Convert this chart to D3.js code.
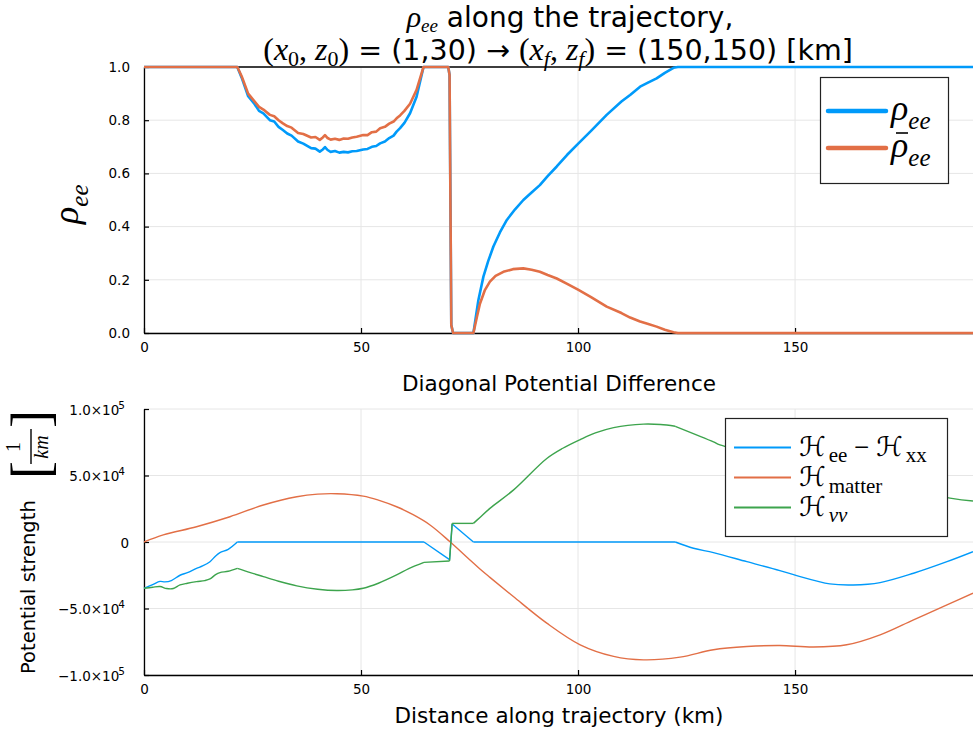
<!DOCTYPE html>
<html>
<head>
<meta charset="utf-8">
<script src="https://cdn.jsdelivr.net/npm/d3@7"></script>
<style>
  body { margin: 0; background: #fff; }
  svg { display: block; }
  text { fill: #000; }
</style>
</head>
<body>
<svg id="chart" width="973" height="737"></svg>
<script>
// ---------- data ----------
// distance along the trajectory (km) and electron-flavour survival probabilities
const distRho = [0, 21.5, 22.5, 24, 25.5, 26.5, 27.5, 29, 30, 31, 32, 33, 34, 35.5, 36.7, 38.5, 39.5, 40.5, 41.2, 41.7, 42.3, 43, 44, 45, 46, 47, 48, 49, 50.5,
  51.5, 52.5, 53.5, 54.4, 55.5, 56.5, 57.5, 58.2, 59, 60, 61.3, 62.8, 64.4, 70.1, 70.4, 70.6, 70.8, 71.2, 75.9, 77, 78.2, 79.3, 80.5, 82, 83.6,
  85.5, 87.4, 89.3, 91.2, 93, 95.1, 97.5, 100.1, 103, 106.6, 110, 112, 114.3, 116, 118.1, 120, 122, 123, 191];
const rhoEE = [1, 1, 0.96, 0.89, 0.86, 0.835, 0.826, 0.80, 0.795, 0.775, 0.763, 0.75, 0.742, 0.72, 0.712, 0.695, 0.693, 0.682, 0.69, 0.699, 0.688, 0.681, 0.684, 0.678, 0.681, 0.679, 0.683, 0.684, 0.69,
  0.692, 0.70, 0.703, 0.713, 0.72, 0.733, 0.742, 0.757, 0.77, 0.79, 0.826, 0.888, 1.0, 1.0, 0.97, 0.5, 0.03, 0, 0, 0.12, 0.212, 0.27, 0.325, 0.378, 0.425,
  0.465, 0.5, 0.528, 0.556, 0.59, 0.626, 0.67, 0.713, 0.76, 0.82, 0.87, 0.895, 0.926, 0.94, 0.957, 0.978, 0.997, 1, 1];

const distRhoBar = [0, 21.5, 22.5, 24, 25.5, 26.5, 27.5, 29, 30, 31, 32, 33, 34, 35.5, 36.7, 38.5, 39.5, 40.5, 41.2, 41.7, 42.3, 43, 44, 45, 46, 47, 48, 49, 50.5,
  51.5, 52.5, 53.5, 54.4, 55.5, 56.5, 57.5, 58.2, 59, 60, 61.3, 62.8, 64.4, 70.1, 70.4, 70.6, 70.8, 71.2, 75.9, 76.7, 77.4, 78.5, 79.7, 81, 82.8,
  85, 87.4, 89.3, 91.2, 93, 95.1, 97.5, 100.1, 103, 106.6, 110, 112, 114.3, 116, 118.1, 120, 122, 123, 191];
const rhoBarEE = [1, 1, 0.965, 0.90, 0.87, 0.85, 0.84, 0.82, 0.815, 0.80, 0.788, 0.778, 0.772, 0.752, 0.748, 0.735, 0.737, 0.726, 0.735, 0.744, 0.733, 0.727, 0.73, 0.726, 0.731, 0.73, 0.735, 0.738, 0.744,
  0.744, 0.755, 0.757, 0.77, 0.775, 0.787, 0.795, 0.807, 0.818, 0.835, 0.862, 0.914, 1.0, 1, 0.97, 0.5, 0.03, 0, 0, 0.06, 0.11, 0.16, 0.193, 0.215, 0.23,
  0.24, 0.243, 0.238, 0.23, 0.218, 0.205, 0.185, 0.162, 0.135, 0.099, 0.075, 0.058, 0.043, 0.035, 0.024, 0.012, 0.003, 0, 0];

// diagonal potential terms (1/km)
const distDiag = [0, 2, 3.7, 4.8, 6.3, 8.3, 10, 12.1, 13.5, 15.2, 16.5, 17.5, 19.4, 21.5, 64.5, 70.4, 71.0, 75.9, 122.4,
  126.6, 131.2, 138.9, 146.5, 150.4, 158, 163.4, 169.6, 177.3, 185, 191];
const hDiag = [-34800, -32000, -29600, -30000, -29000, -25000, -23000, -19800, -18000, -14800, -10500, -8000, -5500, 0, 0, -13300, 13500, 0, 0,
  -4700, -8000, -14800, -21500, -25300, -31500, -32300, -30500, -23500, -14800, -7300];

const distMatter = [0, 4.45, 12.1, 19.8, 27.5, 35.2, 40, 44.4, 50.5, 54, 58.2, 62, 65.9, 70.5, 75.1, 77.4, 79.7, 85.1, 92.8,
  100.5, 108.2, 115.1, 123.5, 131.2, 138.9, 146.5, 154.2, 161.9, 169.6, 177.3, 185, 191];
const hMatter = [0, 5300, 11500, 19000, 27800, 34000, 36000, 36300, 34500, 31500, 26500, 20500, 12800, 200, -13500, -20300, -26600, -41000, -61000,
  -77300, -86000, -88600, -86600, -81000, -78600, -77800, -79000, -77300, -69800, -58500, -47300, -38500];

const distNuNu = [0, 2, 3.7, 5.2, 6.75, 8.3, 10, 12.1, 14, 15.2, 16.5, 17.5, 19.4, 21.5, 24.5, 27.5, 31, 35.2, 40, 44.4,
  48, 50.5, 54, 58.2, 61, 64.5, 70.4, 71, 75.9, 77.4, 79.7, 85.1, 92.8, 96.5, 100.5, 104, 108.2, 115.1, 119, 122.4,
  131.2, 132.7, 185.7, 191];
const hNuNu = [-34800, -34000, -33500, -35000, -35000, -32300, -31000, -29800, -29000, -27800, -24500, -23000, -22000, -19800, -23000, -26000, -29500, -33000, -35500, -36500,
  -36000, -34800, -31000, -24800, -20000, -15300, -14300, 14000, 14000, 18500, 25300, 39000, 62800, 70500, 77000, 82000, 86000, 88600, 88300, 87000,
  75300, 73000, 33000, 30800];

// positions where the potential curves have kinks (piecewise behaviour)
const kinks = [21.5, 64.5, 70.4, 71.0, 75.9, 122.4];

// ticks
const distTicks = [0, 50, 100, 150];
const rhoTicks = [0, 0.2, 0.4, 0.6, 0.8, 1.0];
const potTicks = [-1e5, -5e4, 0, 5e4, 1e5];
const potTickMantissa = ["\u22121.0\u00d710", "\u22125.0\u00d710", "0", "5.0\u00d710", "1.0\u00d710"];
const potTickExponent = ["5", "4", "", "4", "5"];

// ---------- styling ----------
const C_BLUE = "#009AFA", C_ORANGE = "#E26F46", C_GREEN = "#3DA44D";
const SANS = "DejaVu Sans, sans-serif";
const MATH = "Liberation Serif, DejaVu Serif, serif";
const SCRIPT = "DejaVu Serif, DejaVu Sans, serif";
const TICK_SIZE = 13.5;

const svg = d3.select("#chart");

// ---------- scales ----------
const x = d3.scaleLinear().domain([0, 191]).range([144, 973]);
const yRho = d3.scaleLinear().domain([0, 1]).range([333, 67]);
const yPot = d3.scaleLinear().domain([-1e5, 1e5]).range([675, 409]);

// rich text: parts are {t, font, italic, size, shift, dx}
function rich(parent, px, py, parts, anchor, size, family) {
  const t = parent.append("text").attr("x", px).attr("y", py)
    .attr("text-anchor", anchor || "start").attr("font-size", size)
    .attr("font-family", family || SANS);
  let cur = 0;
  parts.forEach(p => {
    const ts = t.append("tspan").text(p.t);
    const want = p.shift || 0;
    if (want !== cur) ts.attr("dy", want - cur);
    cur = want;
    if (p.font) ts.attr("font-family", p.font);
    if (p.italic) ts.attr("font-style", "italic");
    if (p.size) ts.attr("font-size", p.size);
    if (p.dx) ts.attr("dx", p.dx);
  });
  return t;
}

function grid(g, yScale, yTicks) {
  const [y0, y1] = yScale.range();
  g.append("g").selectAll("line").data(distTicks).join("line")
    .attr("x1", d => x(d)).attr("x2", d => x(d)).attr("y1", y1).attr("y2", y0)
    .attr("stroke", "#e6e6e6").attr("stroke-width", 1);
  g.append("g").selectAll("line").data(yTicks).join("line")
    .attr("x1", 144).attr("x2", 973).attr("y1", d => yScale(d)).attr("y2", d => yScale(d))
    .attr("stroke", "#e6e6e6").attr("stroke-width", 1);
}

function axes(g, yScale, yTicks, yFormat) {
  const [y0] = yScale.range();
  const ax = g.append("g").attr("transform", `translate(0,${y0})`)
    .call(d3.axisBottom(x).tickValues(distTicks).tickSize(-5).tickPadding(9).tickSizeOuter(0));
  ax.select(".domain").attr("stroke", "#000").attr("stroke-width", 1.3);
  ax.selectAll(".tick line").attr("stroke", "#000").attr("stroke-width", 1.2);
  ax.selectAll(".tick text").attr("font-family", SANS).attr("font-size", TICK_SIZE).attr("fill", "#000");
  const ay = g.append("g").attr("transform", "translate(144,0)")
    .call(d3.axisLeft(yScale).tickValues(yTicks).tickSize(-5).tickPadding(14).tickSizeOuter(0).tickFormat(yFormat || (() => "")));
  ay.select(".domain").attr("stroke", "#000").attr("stroke-width", 1.3);
  ay.selectAll(".tick line").attr("stroke", "#000").attr("stroke-width", 1.2);
  ay.selectAll(".tick text").attr("font-family", SANS).attr("font-size", TICK_SIZE).attr("fill", "#000");
  return ay;
}

// split a series at kink positions so each smooth piece can be drawn on its own
function pieces(xs, ys) {
  const pts = d3.zip(xs, ys);
  const out = [];
  let cur = [];
  pts.forEach(p => {
    cur.push(p);
    if (kinks.includes(p[0])) { out.push(cur); cur = [p]; }
  });
  if (cur.length > 1) out.push(cur);
  return out;
}

// ===== top panel: rho_ee =====
const gTop = svg.append("g");
grid(gTop, yRho, rhoTicks);
axes(gTop, yRho, rhoTicks, d3.format(".1f"));
gTop.append("line").attr("x1", 144).attr("x2", 973).attr("y1", 67).attr("y2", 67)
  .attr("stroke", "#000").attr("stroke-width", 1.3);
const lineRho = d3.line().x(d => x(d[0])).y(d => yRho(d[1]));
gTop.append("path").datum(d3.zip(distRho, rhoEE)).attr("d", lineRho)
  .attr("fill", "none").attr("stroke", C_BLUE).attr("stroke-width", 2.6).attr("stroke-linejoin", "round");
gTop.append("path").datum(d3.zip(distRhoBar, rhoBarEE)).attr("d", lineRho)
  .attr("fill", "none").attr("stroke", C_ORANGE).attr("stroke-width", 2.6).attr("stroke-linejoin", "round");

// top title (two lines)
rich(svg, 570, 27, [
  { t: "\u03c1", font: MATH, italic: true, size: 30 },
  { t: "ee", font: MATH, italic: true, size: 19, shift: 5 },
  { t: "  along the trajectory,", shift: 0 }
], "middle", 28);
rich(svg, 558, 60, [
  { t: "(", font: MATH, size: 32 },
  { t: "x", font: MATH, italic: true, size: 32 },
  { t: "0", font: MATH, size: 22, shift: 6 },
  { t: ", ", font: MATH, size: 32, shift: 0 },
  { t: "z", font: MATH, italic: true, size: 32 },
  { t: "0", font: MATH, size: 22, shift: 6 },
  { t: ")", font: MATH, size: 32, shift: 0 },
  { t: " = (1,30) \u2192 " },
  { t: "(", font: MATH, size: 32 },
  { t: "x", font: MATH, italic: true, size: 32 },
  { t: "f", font: MATH, italic: true, size: 22, shift: 6 },
  { t: ", ", font: MATH, size: 32, shift: 0 },
  { t: "z", font: MATH, italic: true, size: 32 },
  { t: "f", font: MATH, italic: true, size: 22, shift: 6 },
  { t: ")", font: MATH, size: 32, shift: 0 },
  { t: " = (150,150) [km]" }
], "middle", 28.5);

// top y label
const yl1 = svg.append("g").attr("transform", "translate(78,224) rotate(-90)");
rich(yl1, 0, 0, [
  { t: "\u03c1", font: MATH, italic: true, size: 36 },
  { t: "ee", font: MATH, italic: true, size: 25, shift: 10 }
], "start", 36, MATH);

// top legend (second entry carries a bar accent over rho)
const lg1 = svg.append("g");
lg1.append("rect").attr("x", 820.5).attr("y", 77.5).attr("width", 128).attr("height", 106)
  .attr("fill", "#fff").attr("stroke", "#222").attr("stroke-width", 1.2);
[[C_BLUE, 111, false], [C_ORANGE, 148, true]].forEach(([c, ly, bar]) => {
  lg1.append("line").attr("x1", 828).attr("x2", 886).attr("y1", ly).attr("y2", ly)
    .attr("stroke", c).attr("stroke-width", 4.5).attr("stroke-linecap", "round");
  rich(lg1, 891, ly + 9, [
    { t: "\u03c1", font: MATH, italic: true, size: 36 },
    { t: "ee", font: MATH, italic: true, size: 25, shift: 9 }
  ], "start", 36, MATH);
  if (bar) {
    lg1.append("line").attr("x1", 896).attr("x2", 908).attr("y1", ly - 15).attr("y2", ly - 15)
      .attr("stroke", "#000").attr("stroke-width", 1.6);
  }
});

// ===== bottom panel: diagonal potentials =====
const gBot = svg.append("g");
grid(gBot, yPot, potTicks);
const ayBot = axes(gBot, yPot, potTicks);
// y tick labels with powers of ten
ayBot.selectAll(".tick").each(function (d) {
  const k = potTicks.indexOf(d);
  const parts = [{ t: potTickMantissa[k] }];
  if (potTickExponent[k]) parts.push({ t: potTickExponent[k], size: 10.5, shift: -6, dx: -1 });
  rich(d3.select(this), potTickExponent[k] ? -19 : -15, 5, parts, "end", TICK_SIZE);
});

const linePot = d3.line().x(d => x(d[0])).y(d => yPot(d[1])).curve(d3.curveCatmullRom.alpha(0.5));
[[distDiag, hDiag, C_BLUE], [distMatter, hMatter, C_ORANGE], [distNuNu, hNuNu, C_GREEN]].forEach(([xs, ys, c]) => {
  gBot.append("g").selectAll("path").data(pieces(xs, ys)).join("path")
    .attr("d", linePot).attr("fill", "none").attr("stroke", c).attr("stroke-width", 1.4);
});

// bottom titles
svg.append("text").attr("x", 559).attr("y", 391).attr("text-anchor", "middle")
  .attr("font-family", SANS).attr("font-size", 21.5).text("Diagonal Potential Difference");
svg.append("text").attr("x", 559).attr("y", 723).attr("text-anchor", "middle")
  .attr("font-family", SANS).attr("font-size", 21.5).text("Distance along trajectory (km)");

// bottom y label with unit fraction
const yl2 = svg.append("g").attr("transform", "translate(35,674) rotate(-90)");
yl2.append("text").attr("x", 0).attr("y", 0).attr("font-family", SANS).attr("font-size", 19.5)
  .text("Potential strength");
yl2.append("text").attr("x", 195).attr("y", 14).attr("font-family", MATH).attr("font-size", 54).text("[");
yl2.append("text").attr("x", 227).attr("y", -15).attr("text-anchor", "middle")
  .attr("font-family", MATH).attr("font-size", 20).text("1");
yl2.append("line").attr("x1", 210).attr("x2", 245).attr("y1", -4).attr("y2", -4)
  .attr("stroke", "#000").attr("stroke-width", 1.4);
yl2.append("text").attr("x", 227).attr("y", 13).attr("text-anchor", "middle")
  .attr("font-family", MATH).attr("font-style", "italic").attr("font-size", 20).text("km");
yl2.append("text").attr("x", 246).attr("y", 14).attr("font-family", MATH).attr("font-size", 54).text("]");

// bottom legend
const lg2 = svg.append("g");
lg2.append("rect").attr("x", 725.5).attr("y", 418.5).attr("width", 222).attr("height", 118)
  .attr("fill", "#fff").attr("stroke", "#222").attr("stroke-width", 1.2);
const legendRows = [
  [C_BLUE, 447.5, [
    { t: "\u210b", font: SCRIPT, size: 27 },
    { t: "ee", font: MATH, size: 21, shift: 6, dx: 3 },
    { t: " \u2212 ", font: MATH, size: 27, shift: 0 },
    { t: "\u210b", font: SCRIPT, size: 27 },
    { t: "xx", font: MATH, size: 21, shift: 6, dx: 3 }
  ]],
  [C_ORANGE, 477.5, [
    { t: "\u210b", font: SCRIPT, size: 27 },
    { t: "matter", font: MATH, size: 21, shift: 7, dx: 3 }
  ]],
  [C_GREEN, 507.5, [
    { t: "\u210b", font: SCRIPT, size: 27 },
    { t: "\u03bd\u03bd", font: MATH, italic: true, size: 21, shift: 6, dx: 3 }
  ]]
];
legendRows.forEach(([c, ly, parts]) => {
  lg2.append("line").attr("x1", 734).attr("x2", 791).attr("y1", ly).attr("y2", ly)
    .attr("stroke", c).attr("stroke-width", 2.2);
  rich(lg2, 799, ly + 8, parts, "start", 27, MATH);
});
</script>
</body>
</html>
